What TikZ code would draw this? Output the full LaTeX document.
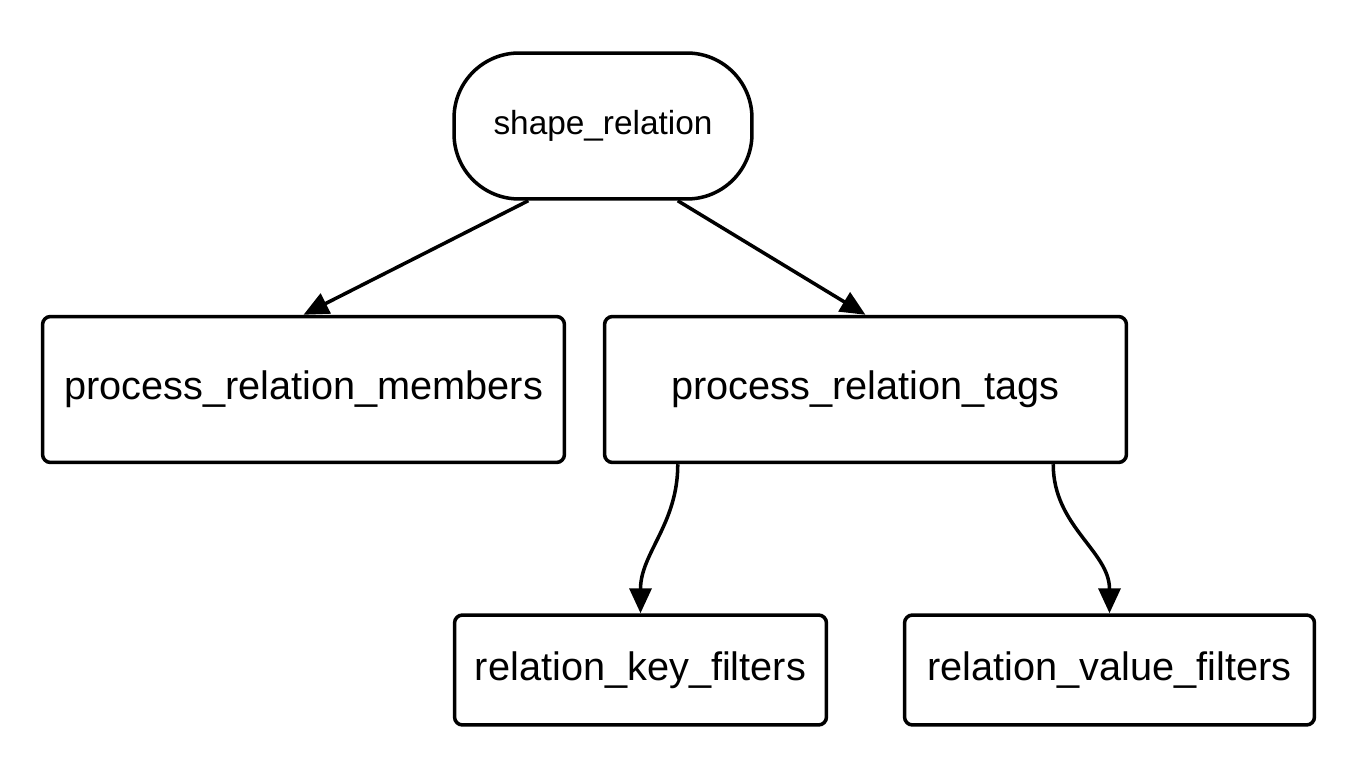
\documentclass[tikz,border=0pt]{standalone}
\usepackage{fontspec}
\setmainfont{Liberation Sans}
\usetikzlibrary {arrows.meta}

\begin{document}
\begin{tikzpicture}[x=0.02cm, y=-0.02cm, line width=2pt,
  box/.style={draw, rectangle, rounded corners=0.16cm, inner sep=0pt,
    font=\fontsize{22.6}{27}\selectfont},
  arr/.style={-{Triangle[length=0.5cm,width=0.44cm]}}]
 \useasboundingbox (0,0) rectangle (1366,773);
 \node [box, rounded corners=1.3cm, minimum width=5.96cm, minimum height=2.92cm,
   font=\fontsize{19}{23}\selectfont] (rel) at (603,126) {shape\_relation};
 \node [box, minimum width=10.44cm, minimum height=2.92cm] (members) at (303.5,389.5) {process\_relation\_members};
 \node [box, minimum width=10.44cm, minimum height=2.92cm] (tags) at (865.5,389.5) {process\_relation\_tags};
 \node [box, minimum width=7.44cm, minimum height=2.2cm] (keyf) at (640.5,670) {relation\_key\_filters};
 \node [box, minimum width=8.2cm, minimum height=2.2cm] (valuef) at (1109.5,670) {relation\_value\_filters};
% \draw [arr] (rel.south)--(members.north);
 \draw [arr] (rel.-135)--(members.north);
 \draw [arr] (rel.-45)--(tags.north);
 \draw [arr] ([xshift=1.5cm]tags.south west) to[out=-90,in=90] (keyf.north);
 \draw [arr] ([xshift=-1.5cm]tags.south east) to[out=-90,in=90] (valuef.north);
\end{tikzpicture}
\end{document}
